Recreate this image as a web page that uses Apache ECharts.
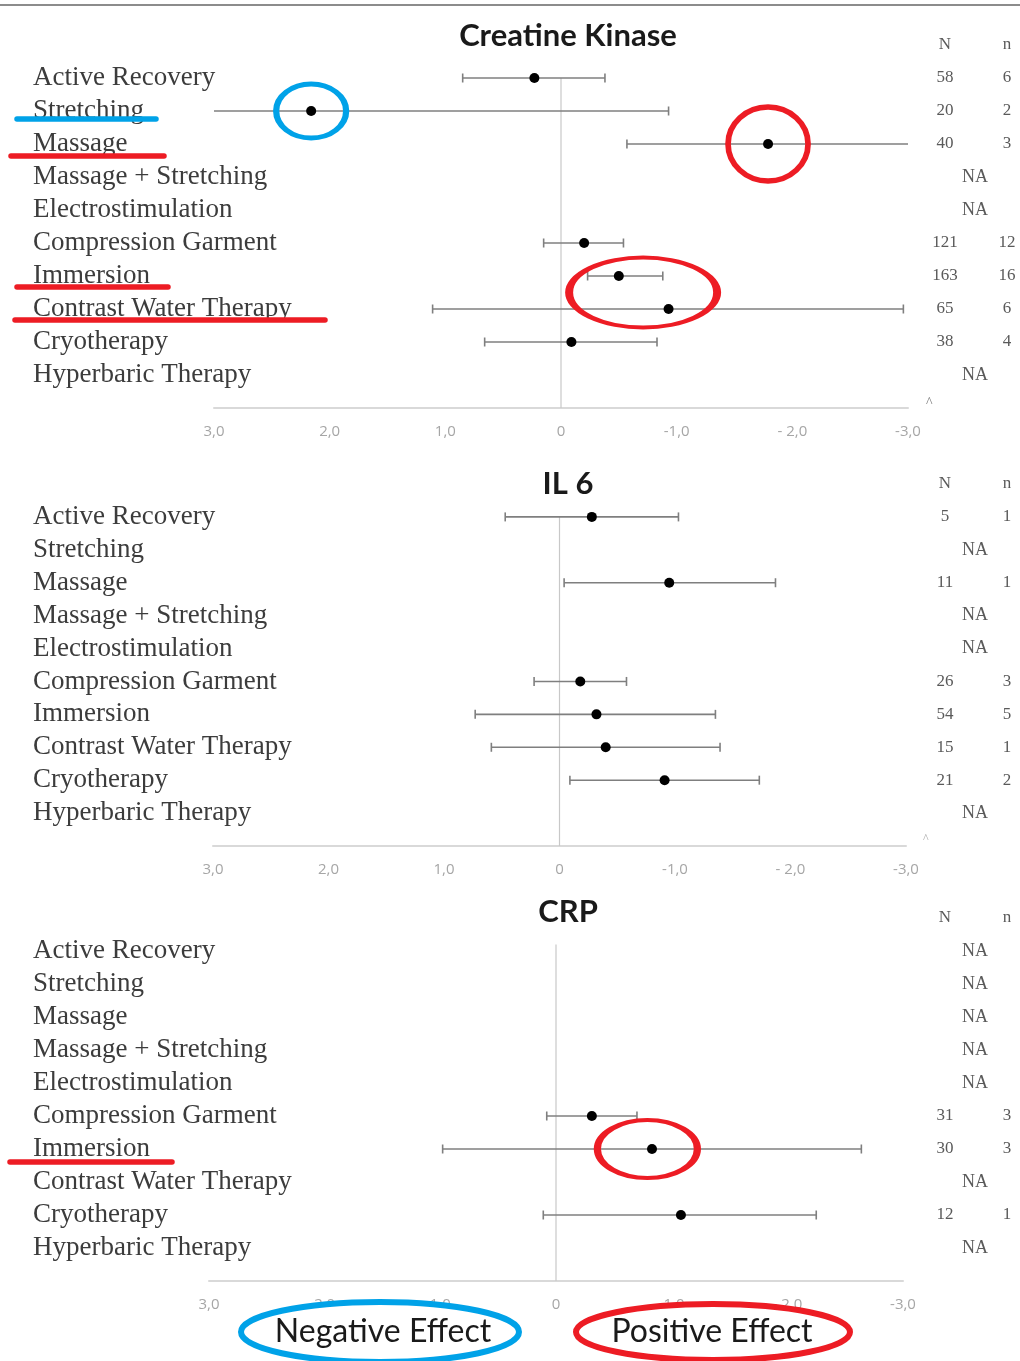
<!DOCTYPE html>
<html><head><meta charset="utf-8">
<script src="https://cdn.jsdelivr.net/npm/echarts@6/dist/echarts.min.js"></script>
<style>html,body{margin:0;padding:0;background:#fff}#c{width:1020px;height:1361px}</style>
</head><body><div id="c"></div>
<script>
// ---------- data ----------
const categories = ['Active Recovery','Stretching','Massage','Massage + Stretching','Electrostimulation','Compression Garment','Immersion','Contrast Water Therapy','Cryotherapy','Hyperbaric Therapy'];
const panelTitles = ['Creatine Kinase','IL 6','CRP'];
const tickValues = [3,2,1,0,-1,-2,-3];
const tickLabels = ['3,0','2,0','1,0','0','-1,0','- 2,0','-3,0'];

const ckMean = [0.23, 2.16, -1.79, null, null, -0.20, -0.50, -0.93, -0.09, null];
const ckLow  = [0.85, 3.00, -0.57, null, null,  0.15, -0.23,  1.11,  0.66, null];
const ckHigh = [-0.38,-0.93,-3.00, null, null, -0.54, -0.88, -2.96, -0.83, null];
const ckN = [58, 20, 40, null, null, 121, 163, 65, 38, null];
const ckn = [6, 2, 3, null, null, 12, 16, 6, 4, null];

const il6Mean = [-0.28, null, -0.95, null, null, -0.18, -0.32, -0.40, -0.91, null];
const il6Low  = [0.47, null, -0.04, null, null, 0.22, 0.73, 0.59, -0.09, null];
const il6High = [-1.03, null, -1.87, null, null, -0.58, -1.35, -1.39, -1.73, null];
const il6N = [5, null, 11, null, null, 26, 54, 15, 21, null];
const il6n = [1, null, 1, null, null, 3, 5, 1, 2, null];

const crpMean = [null, null, null, null, null, -0.31, -0.83, null, -1.08, null];
const crpLow  = [null, null, null, null, null, 0.08, 0.98, null, 0.11, null];
const crpHigh = [null, null, null, null, null, -0.70, -2.64, null, -2.25, null];
const crpN = [null, null, null, null, null, 31, 30, null, 12, null];
const crpn = [null, null, null, null, null, 3, 3, null, 1, null];

// ---------- layout ----------
const panels = [
  {mean: ckMean, low: ckLow, high: ckHigh, N: ckN, n: ckn, grid: {left: 214, width: 694, top: 45, height: 363}, zeroFrom: 0, titleTop: 15},
  {mean: il6Mean, low: il6Low, high: il6High, N: il6N, n: il6n, grid: {left: 213, width: 693, top: 484, height: 362}, zeroFrom: 0, titleTop: 463},
  {mean: crpMean, low: crpLow, high: crpHigh, N: crpN, n: crpn, grid: {left: 209, width: 694, top: 918, height: 363}, zeroFrom: -0.2, titleTop: 891}
];
// annotation highlights (panel, row index, x value, colour, size)
const highlights = [
  {p: 0, x: 2.16, y: 1, color: '#00a2e8', size: [70, 54]},
  {p: 0, x: -1.79, y: 2, color: '#ed1c24', size: [80, 74]},
  {p: 0, x: -0.71, y: 6.5, color: '#ed1c24', size: [148, 70]},
  {p: 2, x: -0.79, y: 6, color: '#ed1c24', size: [100, 58]}
];

const serif = '"Liberation Serif", "DejaVu Serif", serif';
const grids = [], xAxes = [], yAxes = [], series = [], titles = [];

panels.forEach((P, i) => {
  grids.push(P.grid);
  titles.push({text: panelTitles[i], left: 563, top: P.titleTop, textAlign: 'center',
    textStyle: {fontFamily: 'Lato', fontWeight: 'bold', fontSize: 31, color: '#1a1a1a'}});
  xAxes.push({type: 'value', gridIndex: i, min: -3, max: 3, interval: 1, inverse: true,
    axisLine: {show: true, onZero: false, lineStyle: {color: '#d9d9d9', width: 2}},
    axisTick: {show: false}, splitLine: {show: false},
    axisLabel: {margin: 16, color: '#a6a6a6', fontSize: 15, fontFamily: 'Open Sans',
      formatter: v => tickLabels[tickValues.indexOf(v)] ?? ''}});
  const margin = P.grid.left - 33;
  yAxes.push({type: 'value', gridIndex: i, min: -1, max: 10, interval: 1, inverse: true, position: 'left',
    axisLine: {show: false}, axisTick: {show: false}, splitLine: {show: false},
    axisLabel: {align: 'left', margin: margin, fontFamily: serif, fontSize: 27, color: '#3c3c3c',
      formatter: v => categories[v] ?? ''}});
  yAxes.push({type: 'value', gridIndex: i, min: -1, max: 10, interval: 1, inverse: true, position: 'right',
    axisLine: {show: false}, axisTick: {show: false}, splitLine: {show: false},
    axisLabel: {align: 'left', margin: 925 - (P.grid.left + P.grid.width), fontFamily: serif, fontSize: 17, color: '#5a5a5a',
      formatter: v => {
        if (v === -1) return '{N|N}{n|n}';
        if (v < 0 || v > 9) return '';
        if (P.N[v] == null) return '{na|NA}';
        return '{N|' + P.N[v] + '}{n|' + P.n[v] + '}';
      },
      rich: {
        N: {width: 40, align: 'center', fontFamily: serif, fontSize: 17, color: '#5a5a5a'},
        n: {width: 84, align: 'center', fontFamily: serif, fontSize: 17, color: '#5a5a5a'},
        na: {width: 100, align: 'center', fontFamily: serif, fontSize: 18, color: '#5a5a5a'}
      }}});
  // zero reference line
  series.push({type: 'line', xAxisIndex: i, yAxisIndex: 2 * i, data: [[0, P.zeroFrom], [0, 10]],
    symbol: 'none', silent: true, lineStyle: {color: '#c8c8c8', width: 1.2}, z: 1});
  // error bars
  const ebData = [];
  P.mean.forEach((m, k) => { if (m != null) ebData.push([P.low[k], P.high[k], k]); });
  series.push({type: 'custom', xAxisIndex: i, yAxisIndex: 2 * i, z: 2, silent: true,
    encode: {x: [0, 1], y: 2},
    data: ebData,
    renderItem: (params, api) => {
      const lo = api.value(0), hi = api.value(1), y = api.value(2);
      const a = api.coord([lo, y]), b = api.coord([hi, y]);
      const st = {stroke: '#7f7f7f', lineWidth: 1.6};
      const ch = [{type: 'line', shape: {x1: a[0], y1: a[1], x2: b[0], y2: b[1]}, style: st}];
      if (Math.abs(lo) < 3) ch.push({type: 'line', shape: {x1: a[0], y1: a[1] - 4.5, x2: a[0], y2: a[1] + 4.5}, style: st});
      if (Math.abs(hi) < 3) ch.push({type: 'line', shape: {x1: b[0], y1: b[1] - 4.5, x2: b[0], y2: b[1] + 4.5}, style: st});
      return {type: 'group', children: ch};
    }});
  // point estimates
  const pts = [];
  P.mean.forEach((m, k) => { if (m != null) pts.push([m, k]); });
  series.push({type: 'scatter', xAxisIndex: i, yAxisIndex: 2 * i, data: pts, symbol: 'circle', symbolSize: 10,
    itemStyle: {color: '#000', opacity: 1}, z: 3, silent: true});
});

// hand-drawn style highlight ellipses tied to data coordinates
highlights.forEach(h => {
  series.push({type: 'scatter', xAxisIndex: h.p, yAxisIndex: 2 * h.p, data: [[h.x, h.y]], symbol: 'circle',
    symbolSize: h.size, silent: true, z: 4,
    itemStyle: {color: 'rgba(0,0,0,0)', borderColor: h.color, borderWidth: 5.5, opacity: 1}});
});

const underline = (x1, x2, y, color) => ({type: 'line', z: 100,
  shape: {x1, y1: y, x2, y2: y}, style: {stroke: color, lineWidth: 5.5, lineCap: 'round'}});

const graphic = [
  {type: 'line', z: 100, shape: {x1: 0, y1: 5, x2: 1020, y2: 5}, style: {stroke: '#8c8c8c', lineWidth: 2}},
  underline(17, 156, 119, '#00a2e8'),
  underline(11, 164, 156, '#ed1c24'),
  underline(17, 168, 287, '#ed1c24'),
  underline(15, 325, 320, '#ed1c24'),
  underline(10, 172, 1162, '#ed1c24'),
  {type: 'text', z: 100, left: 926, top: 396, style: {text: '^', fill: '#777', font: '14px "Liberation Serif"'}},
  {type: 'text', z: 100, left: 923, top: 833, style: {text: '^', fill: '#aaa', font: '12px "Liberation Serif"'}},
  {type: 'ellipse', z: 100, shape: {cx: 380, cy: 1332, rx: 139, ry: 30},
    style: {fill: '#fff', stroke: '#00a2e8', lineWidth: 6}},
  {type: 'ellipse', z: 100, shape: {cx: 713, cy: 1332, rx: 137, ry: 28},
    style: {fill: '#fff', stroke: '#ed1c24', lineWidth: 6}},
  {type: 'text', z: 101, x: 383, y: 1332, style: {text: 'Negative Effect', fill: '#1a1a1a',
    font: '32px Lato', textAlign: 'center', textVerticalAlign: 'middle'}},
  {type: 'text', z: 101, x: 712, y: 1332, style: {text: 'Positive Effect', fill: '#1a1a1a',
    font: '32px Lato', textAlign: 'center', textVerticalAlign: 'middle'}}
];

const chart = echarts.init(document.getElementById('c'), null, {renderer: 'canvas'});
chart.setOption({
  animation: false,
  backgroundColor: '#fff',
  title: titles,
  grid: grids,
  xAxis: xAxes,
  yAxis: yAxes,
  series: series,
  graphic: graphic
});
</script></body></html>
